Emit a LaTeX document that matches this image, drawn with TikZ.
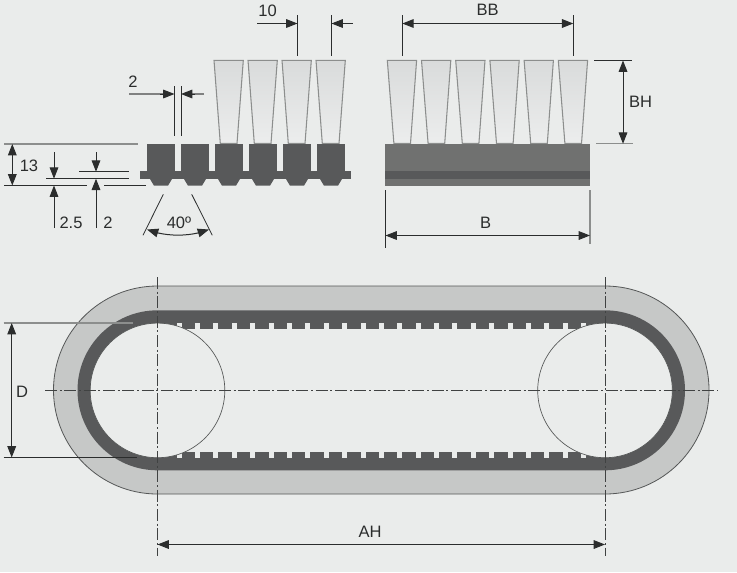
\documentclass[tikz,border=0pt]{standalone}
\usepackage{fontspec}
\setmainfont{Liberation Sans}
\usetikzlibrary{arrows.meta,bending}
\definecolor{bg}{HTML}{EAECEB}
\definecolor{lightband}{HTML}{C6C8C7}
\definecolor{darkbelt}{HTML}{58595A}
\definecolor{sidebody}{HTML}{707170}
\definecolor{ink}{HTML}{2B2D2D}
\definecolor{grayline}{HTML}{8C8E8D}
\definecolor{flanktop}{HTML}{D9DBDB}
\definecolor{flankbot}{HTML}{ECEDED}
\tikzset{
  dim/.style={draw=ink,line width=0.75pt},
  dimgray/.style={draw=grayline,line width=0.9pt},
  tipEnd/.style={-{Triangle[length=8.5pt,width=6.5pt,fill=ink]}},
  tipBoth/.style={{Triangle[length=8.5pt,width=6.5pt,fill=ink]}-{Triangle[length=8.5pt,width=6.5pt,fill=ink]}},
  lab/.style={text=ink,font=\fontsize{12.4}{14}\selectfont,inner sep=0pt},
  flank/.style={draw=grayline,line width=0.8pt,top color=flanktop,bottom color=flankbot},
  centerline/.style={draw=ink!90,line width=0.6pt,dash pattern=on 9pt off 2pt on 1.5pt off 2pt},
  pulley/.style={fill=bg,draw=ink!80,line width=0.5pt}
}
\begin{document}
\begin{tikzpicture}[x=0.75pt,y=-0.75pt]
\useasboundingbox (0,0) rectangle (737,572);
\fill[bg] (0,0) rectangle (737,572);

% ---- flanks and belt section, left view
\foreach \i in {2,3,4,5}{
  \pgfmathsetmacro{\xx}{\i*34+147}
  \path[flank] (\xx-1,60.3) -- (\xx+28.3,60.3) -- (\xx+22,143.5) -- (\xx+5.3,143.5) -- cycle;
}
\fill[darkbelt] (140,171.3) rectangle (351.3,179.2);
\foreach \i in {0,...,5}{
  \pgfmathsetmacro{\xx}{\i*34+147}
  \fill[darkbelt] (\xx,143.7) rectangle (\xx+28,171.5);
  \fill[darkbelt] (\xx+3,179) -- (\xx+25,179) -- (\xx+21,185.7) -- (\xx+7,185.7) -- cycle;
}

% ---- flanks and belt section, right view
\foreach \i in {0,...,5}{
  \pgfmathsetmacro{\xx}{\i*34.2+387.3}
  \path[flank] (\xx,60.3) -- (\xx+29.3,60.3) -- (\xx+23.2,143.5) -- (\xx+6.6,143.5) -- cycle;
}
\fill[sidebody] (385,143.7) rectangle (590.3,185.7);
\fill[darkbelt] (385,171.3) rectangle (590.3,179);

% ---- belt loop
\path[fill=lightband,draw=ink!80,line width=0.6pt]
  (157.5,286) -- (605,286) arc[start angle=-90,end angle=90,radius=104]
  -- (157.5,494) arc[start angle=90,end angle=270,radius=104] -- cycle;
\path[fill=darkbelt]
  (157.5,310.3) -- (605,310.3) arc[start angle=-90,end angle=90,radius=80]
  -- (157.5,470.3) arc[start angle=90,end angle=270,radius=80] -- cycle;
\fill[bg] (157.5,329) rectangle (605,451.7);
\foreach \i in {0,...,22}{
  \pgfmathsetmacro{\xx}{\i*18.38+176.7}
  \fill[bg] (\xx,323.2) rectangle (\xx+5,329.2);
  \fill[bg] (\xx,451.5) rectangle (\xx+5,457.6);
}
\path[pulley] (157.5,390.4) circle[radius=67.3];
\path[pulley] (605,390.4) circle[radius=67.3];

% ---- centre lines
\coordinate (hl) at (45,390.4);   \coordinate (hr) at (718,390.4);
\coordinate (vlt) at (157.5,277); \coordinate (vlb) at (157.5,556);
\coordinate (vrt) at (605,277);   \coordinate (vrb) at (605,556);
\draw[centerline] (hl) -- (hr);
\draw[centerline] (vlt) -- (vlb);
\draw[centerline] (vrt) -- (vrb);

% ---- dimension D
\draw[dimgray] (3.5,323) -- (133,323);
\draw[dim] (3.5,457.5) -- (136.5,457.5);
\draw[dim,tipBoth] (11.7,323) -- (11.7,457.5);
\node[lab] (labD) at (22,391.5) {D};

% ---- dimension AH
\draw[dim,tipBoth] (157.5,544.5) -- (605,544.5);
\node[lab] (labAH) at (370,531.5) {AH};

% ---- dimension BB
\draw[dim] (402.3,15) -- (402.3,56);
\draw[dim] (573.3,15) -- (573.3,56);
\draw[dim,tipBoth] (402.3,23.5) -- (573.3,23.5);
\node[lab] (labBB) at (487.7,10) {BB};

% ---- dimension BH
\draw[dim] (594,60.5) -- (631.7,60.5);
\draw[dimgray] (596,143.8) -- (633,143.8);
\draw[dim,tipBoth] (623,60.5) -- (623,143.8);
\node[lab] (labBH) at (640.5,102) {BH};

% ---- dimension B
\draw[dim] (385.5,190) -- (385.5,248);
\draw[dimgray] (590,190) -- (590,244);
\draw[dim,tipBoth] (385.5,235.5) -- (590,235.5);
\node[lab] (labB) at (485.7,222.5) {B};

% ---- dimension 10
\draw[dim] (297.5,15) -- (297.5,56);
\draw[dim] (331.5,15) -- (331.5,56);
\draw[dim,tipEnd] (257,23.5) -- (297.5,23.5);
\draw[dim,tipEnd] (352.5,23.5) -- (331.5,23.5);
\node[lab] (labTen) at (267.5,10.5) {10};

% ---- dimension 2 (gap)
\draw[dim] (174.5,86) -- (174.5,135.5);
\draw[dim] (181,86) -- (181,135.5);
\draw[dimgray,draw=ink!60] (129,94) -- (165,94);
\draw[dim,tipEnd] (160,94) -- (174.5,94);
\draw[dimgray,draw=ink!60] (204,94) -- (190,94);
\draw[dim,tipEnd] (195,94) -- (181,94);
\node[lab] (labGap) at (133,81.5) {2};

% ---- heights at left
\draw[dimgray] (4,144) -- (137.5,144);
\draw[dim] (4,185.5) -- (87.3,185.5);
\draw[dim] (104,185.5) -- (145.7,185.5);
\draw[dim] (46,178.7) -- (129,178.7);
\draw[dim] (79,171.7) -- (129,171.7);
\draw[dim,tipBoth] (12.3,144) -- (12.3,185.5);
\node[lab] (labThirteen) at (29,165.5) {13};
\draw[dim,tipEnd] (54,152) -- (54,178.7);
\draw[dim,tipEnd] (54,228) -- (54,185.5);
\node[lab] (labTwoFive) at (71,222.5) {2.5};
\draw[dim,tipEnd] (96,152) -- (96,171.7);
\draw[dim,tipEnd] (96,228) -- (96,178.7);
\node[lab] (labTwo) at (108,222.5) {2};

% ---- angle 40
\draw[dim,line width=0.6pt] (163.3,194.3) -- (143,235.3);
\draw[dim,line width=0.6pt] (191.7,194.3) -- (212.3,235.3);
\draw[dim,tipBoth] (147,229.5) .. controls (165,237) and (191,237) .. (209,229.5);
\node[lab] (labAngle) at (179,222.5) {40º};
\end{tikzpicture}
\end{document}
